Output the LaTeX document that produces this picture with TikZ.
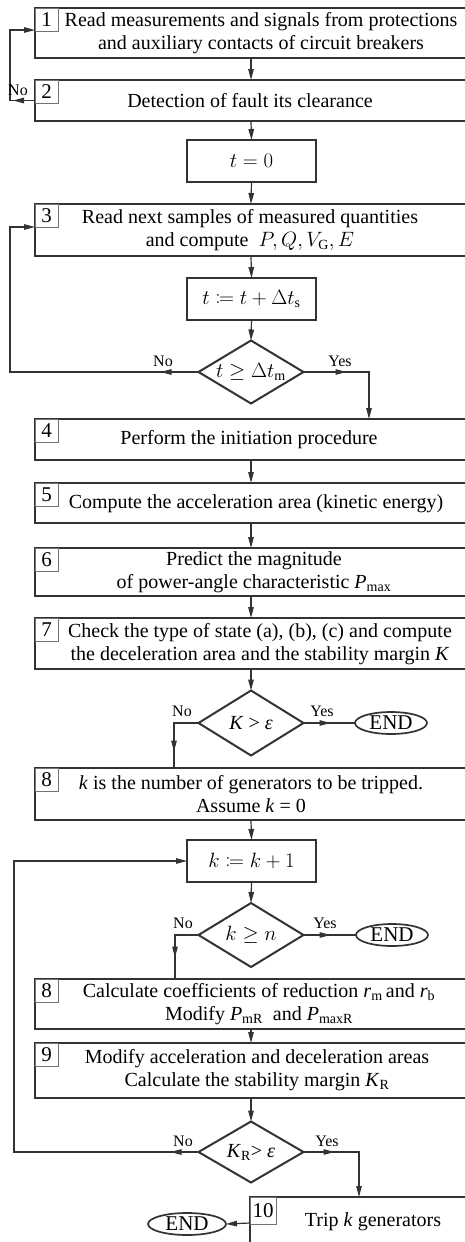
\documentclass[tikz,border=0pt]{standalone}
\usepackage{mathtools}
\usepackage{fontspec}
\setmainfont{Liberation Serif}
\usetikzlibrary{shapes.geometric,arrows.meta,decorations.markings,calc}
\newcommand\vv[2]{\textit{#1}\textsubscript{#2}}
\tikzset{
  mainbox/.style={draw=black!80, line width=2pt, rectangle, minimum width=432pt, inner sep=0pt, outer sep=0pt},
  smallbox/.style={draw=black!80, line width=2pt, rectangle, minimum width=129pt, minimum height=42pt, inner sep=0pt, outer sep=0pt, font=\fontsize{20}{23}\selectfont},
  dia/.style={draw=black!80, line width=2pt, diamond, minimum width=105pt, minimum height=63pt, inner sep=0pt, outer sep=0pt},
  endnode/.style={draw=black!80, line width=1.7pt, ellipse, minimum width=72pt, minimum height=22pt, inner sep=0pt, outer sep=0pt, font=\fontsize{21}{21}\selectfont},
  numbox/.style={draw=black!55, line width=0.7pt, rectangle, minimum size=23pt, inner sep=0pt, outer sep=0pt, anchor=north west, font=\fontsize{21}{21}\selectfont},
  txt/.style={align=center, inner sep=0pt, font=\fontsize{20}{22.5}\selectfont},
  yn/.style={inner sep=0pt, font=\fontsize{16}{16}\selectfont},
  conn/.style={draw=black!80, line width=1.2pt},
  arr/.style={conn, -{Triangle[length=11pt,width=5.5pt]}},
  mida/.style={postaction={decorate, decoration={markings, mark=at position #1 with {\arrow{Triangle[length=11pt,width=5.5pt]}}}}},
}
\begin{document}
\begin{tikzpicture}[x=1pt,y=-1pt]
\useasboundingbox (0,0) rectangle (465,1242);
\clip (0,0) rectangle (465,1242);
\fill[white] (0,0) rectangle (465,1242);

% boxes
\node[mainbox, minimum height=50pt] (b1) at (251,33) {};
\node[numbox] (n1) at (b1.north west) {1};
\node[txt] (t1) at (261,33) {Read measurements and signals from protections\\and auxiliary contacts of circuit breakers};

\node[mainbox, minimum height=41pt] (b2) at (251,100.5) {};
\node[numbox] (n2) at (b2.north west) {2};
\node[txt] (t2) at (250,101) {Detection of fault its clearance};

\node[smallbox] (t0) at (251.5,161) {$t = 0$};

\node[mainbox, minimum height=52pt] (b3) at (251,230) {};
\node[numbox] (n3) at (b3.north west) {3};
\node[txt] (t3) at (250,230) {Read next samples of measured quantities\\and compute\ \ $P, Q, V_{\mathrm{G}}, E$};

\node[smallbox] (tinc) at (251.5,299) {$t \coloneqq t + \Delta t_{\mathrm{s}}$};

\node[dia] (d1) at (251,372) {};
\node[txt] (d1t) at (d1) {$t \geq \Delta t_{\mathrm{m}}$};

\node[mainbox, minimum height=41pt] (b4) at (251,439.5) {};
\node[numbox] (n4) at (b4.north west) {4};
\node[txt] (t4) at (249,440) {Perform the initiation procedure};

\node[mainbox, minimum height=40pt] (b5) at (251,503) {};
\node[numbox] (n5) at (b5.north west) {5};
\node[txt] (t5) at (256,504) {Compute the acceleration area (kinetic energy)};

\node[mainbox, minimum height=48pt] (b6) at (251,572) {};
\node[numbox] (n6) at (b6.north west) {6};
\node[txt] (t6) at (254,572) {Predict the magnitude\\of power-angle characteristic \vv{P}{max}};

\node[mainbox, minimum height=51pt] (b7) at (251,643.5) {};
\node[numbox] (n7) at (b7.north west) {7};
\node[txt] (t7) at (260,644) {Check the type of state (a), (b), (c) and compute\\the deceleration area and the stability margin \textit{K}};

\node[dia, minimum height=65pt] (d2) at (251,723) {};
\node[txt] (d2t) at (d2) {\textit{K} > \textit{ε}};
\node[endnode] (end1) at (391,723) {END};

\node[mainbox, minimum height=52pt] (b8) at (251,794) {};
\node[numbox] (n8) at (b8.north west) {8};
\node[txt] (t8) at (251,794) {\textit{k} is the number of generators to be tripped.\\Assume \textit{k} = 0};

\node[smallbox] (kinc) at (251.5,861) {$k \coloneqq k + 1$};

\node[dia, minimum height=64pt] (d3) at (251,935) {};
\node[txt] (d3t) at (d3) {$k \geq n$};
\node[endnode] (end2) at (392,935) {END};

\node[mainbox, minimum height=50pt] (b8b) at (251,1004) {};
\node[numbox] (n8b) at (b8b.north west) {8};
\node[txt] (t8b) at (259,1004) {Calculate coefficients of reduction \vv{r}{m}\,and \vv{r}{b}\\Modify \vv{P}{mR}\ \ and \vv{P}{maxR}};

\node[mainbox, minimum height=55pt] (b9) at (251,1070.5) {};
\node[numbox] (n9) at (b9.north west) {9};
\node[txt] (t9) at (257,1070) {Modify acceleration and deceleration areas\\Calculate the stability margin \vv{K}{R}};

\node[dia, minimum height=61pt] (d4) at (251,1152) {};
\node[txt] (d4t) at (d4) {\vv{K}{R}> \textit{ε}};

\node[draw=black!80, line width=2pt, rectangle, minimum width=230pt, minimum height=73pt, inner sep=0pt, outer sep=0pt, anchor=north west] (b10) at (250,1197) {};
\node[numbox, minimum width=26pt, minimum height=27pt] (n10) at (b10.north west) {10};
\node[txt] (t10) at (373,1222) {Trip \textit{k} generators};
\node[endnode, minimum width=78pt] (end3) at (187,1224) {END};

% straight connectors
\draw[arr] (b1.south) -- (b2.north);
\draw[arr] (b2.south) -- (t0.north);
\draw[arr] (t0.south) -- (b3.north);
\draw[arr] (b3.south) -- (tinc.north);
\draw[arr] (tinc.south) -- (d1.north);
\draw[arr] (b4.south) -- (b5.north);
\draw[arr] (b5.south) -- (b6.north);
\draw[arr] (b6.south) -- (b7.north);
\draw[arr] (b7.south) -- (d2.north);
\draw[arr] (b8.south) -- (kinc.north);
\draw[arr] (kinc.south) -- (d3.north);
\draw[arr] (b8b.south) -- (b9.north);
\draw[arr] (b9.south) -- (d4.north);

% loop 2 -> 1
\coordinate (c2) at (10,100.5);
\coordinate (b1in) at ($(b1.north west)+(0,22)$);
\draw[arr, mida=22pt] (b2.west) -- (c2) |- (b1in);
\node[yn] (no0) at (18,90) {No};

% d1
\coordinate (c3) at (10,372);
\coordinate (b3in) at ($(b3.north west)+(0,23)$);
\draw[arr, mida=38pt] (d1.west) -- (c3) |- (b3in);
\draw[arr, mida=43pt] (d1.east) -| ($(b4.north)+(118,0)$);
\node[yn] (no1) at (163,361) {No};
\node[yn] (yes1) at (340,361) {Yes};

% d2
\draw[conn, mida=27pt] (d2.east) -- (end1.west);
\draw[conn, mida=53pt] (d2.west) -| ($(b8.north)+(-77,0)$);
\node[yn] (no2) at (182,711) {No};
\node[yn] (yes2) at (322,711) {Yes};

% d3
\draw[conn, mida=27pt] (d3.east) -- (end2.west);
\draw[conn, mida=46pt] (d3.west) -| ($(b8b.north)+(-76,0)$);
\node[yn] (no3) at (183,923) {No};
\node[yn] (yes3) at (325,923) {Yes};

% d4
\coordinate (c4) at (14,1152);
\draw[arr, mida=28pt] (d4.west) -- (c4) |- (kinc.west);
\draw[arr, mida=31pt] (d4.east) -| ($(b10.north west)+(109,0)$);
\node[yn] (no4) at (183,1141) {No};
\node[yn] (yes4) at (327,1141) {Yes};

% 10 -> END
\draw[arr] ($(b10.north west)+(0,26)$) -- (end3.east);
\end{tikzpicture}
\end{document}
